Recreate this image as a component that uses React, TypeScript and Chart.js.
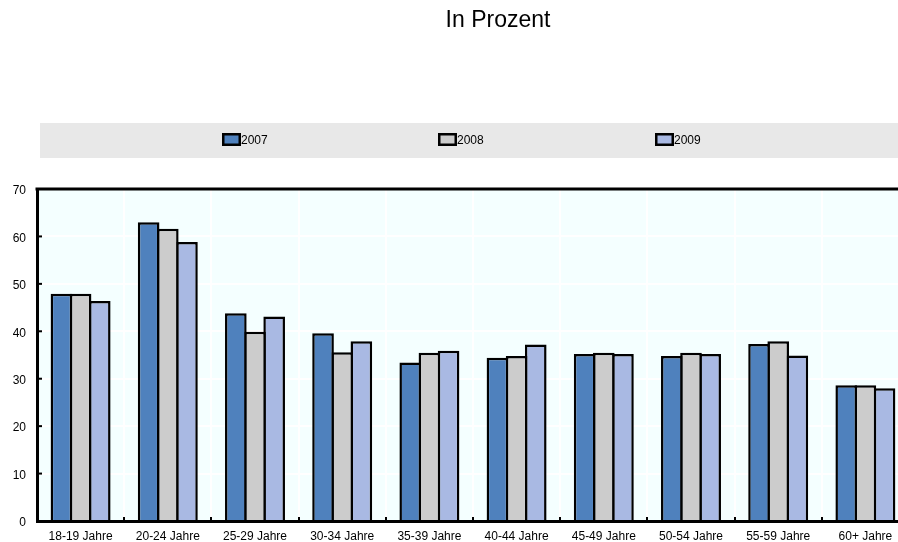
import React, { useEffect, useRef } from 'react';
import { Chart, registerables } from 'chart.js';

Chart.register(...registerables);

const categories = [
  '18-19 Jahre', '20-24 Jahre', '25-29 Jahre', '30-34 Jahre', '35-39 Jahre',
  '40-44 Jahre', '45-49 Jahre', '50-54 Jahre', '55-59 Jahre', '60+ Jahre',
];
const seriesLabels = ['2007', '2008', '2009'];
const values2007 = [47.9, 63.0, 43.8, 39.6, 33.4, 34.4, 35.2, 34.8, 37.3, 28.6];
const values2008 = [47.9, 61.6, 39.9, 35.6, 35.5, 34.8, 35.5, 35.5, 37.9, 28.6];
const values2009 = [46.4, 58.8, 43.1, 37.9, 35.9, 37.2, 35.2, 35.2, 34.9, 28.0];
const titleText = 'In Prozent';
const yMin = 0;
const yMax = 70;
const yStep = 10;

const FONT = '"Liberation Sans", Arial, sans-serif';
const COLORS = ['#4f81bd', '#cccccc', '#a9b9e3'];
const LEGEND_X = [222, 438, 655];

const decorPlugin = {
  id: 'decor',
  beforeDraw(chart: any) {
    const { ctx, chartArea } = chart;
    const { left, top, right, bottom } = chartArea;
    ctx.save();
    ctx.fillStyle = '#ffffff';
    ctx.fillRect(0, 0, chart.width, chart.height);
    ctx.fillStyle = '#f4ffff';
    ctx.fillRect(left, top, right - left, bottom - top);

    // title
    ctx.fillStyle = '#000';
    ctx.font = `23px ${FONT}`;
    ctx.textAlign = 'center';
    ctx.textBaseline = 'middle';
    ctx.fillText(titleText, 498, 21);

    // legend band
    ctx.fillStyle = '#e8e8e8';
    ctx.fillRect(40, 123, chart.width - 40, 35);
    ctx.font = `12px ${FONT}`;
    ctx.textAlign = 'left';
    chart.data.datasets.forEach((ds: any, i: number) => {
      const x = LEGEND_X[i];
      const y = 133;
      ctx.fillStyle = ds.backgroundColor;
      ctx.fillRect(x, y, 19, 13);
      ctx.strokeStyle = '#000';
      ctx.lineWidth = 2.5;
      ctx.strokeRect(x + 1.25, y + 1.25, 16.5, 10.5);
      ctx.fillStyle = '#000';
      ctx.fillText(ds.label, x + 19, 141);
    });
    ctx.restore();
  },
  afterDraw(chart: any) {
    const { ctx, chartArea, scales } = chart;
    const { left, top, right, bottom } = chartArea;
    ctx.save();
    ctx.strokeStyle = '#000';
    // top border
    ctx.lineWidth = 3;
    ctx.beginPath();
    ctx.moveTo(left - 1.5, top);
    ctx.lineTo(right, top);
    ctx.stroke();
    // inward y ticks
    ctx.lineWidth = 2;
    const ys = scales.y;
    ys.ticks.forEach((t: any) => {
      if (t.value <= yMin || t.value >= yMax) return;
      const py = ys.getPixelForValue(t.value);
      ctx.beginPath();
      ctx.moveTo(left, py);
      ctx.lineTo(left + 5, py);
      ctx.stroke();
    });
    // inward x ticks at category boundaries
    const n = categories.length;
    const w = (right - left) / n;
    for (let i = 1; i < n; i++) {
      const px = Math.round(left + w * i);
      ctx.beginPath();
      ctx.moveTo(px, bottom);
      ctx.lineTo(px, bottom - 4);
      ctx.stroke();
    }
    ctx.restore();
  },
};

export default function App() {
  const ref = useRef<HTMLCanvasElement | null>(null);

  useEffect(() => {
    if (!ref.current) return;
    const chart = new Chart(ref.current, {
      type: 'bar',
      data: {
        labels: categories,
        datasets: [values2007, values2008, values2009].map((vals, i) => ({
          label: seriesLabels[i],
          data: vals,
          backgroundColor: COLORS[i],
          borderColor: '#000000',
          borderWidth: 2.5,
          borderSkipped: 'start',
          categoryPercentage: 0.659,
          barPercentage: 1.13,
        })),
      },
      options: {
        responsive: false,
        animation: false,
        layout: { padding: { top: 189, right: 11, left: 0, bottom: 0 } },
        plugins: {
          legend: { display: false },
          title: { display: false },
          tooltip: { enabled: false },
        },
        scales: {
          x: {
            offset: true,
            grid: { display: true, offset: true, color: '#ffffff', lineWidth: 2, drawTicks: false },
            border: { display: true, color: '#000000', width: 3 },
            ticks: { color: '#000', font: { family: FONT, size: 12 }, padding: 8, maxRotation: 0, autoSkip: false },
            afterFit: (s: any) => { s.height = 21; },
          },
          y: {
            min: yMin,
            max: yMax,
            grid: { color: '#ffffff', lineWidth: 2, drawTicks: false },
            border: { display: true, color: '#000000', width: 3 },
            ticks: { stepSize: yStep, color: '#000', font: { family: FONT, size: 12 }, padding: 11, labelOffset: 2 },
            afterFit: (s: any) => { s.width = 37; },
          },
        },
      },
      plugins: [decorPlugin],
    });
    return () => chart.destroy();
  }, []);

  return (
    <div style={{ position: 'fixed', left: 0, top: 0, width: 898, height: 542, overflow: 'hidden', background: '#fff' }}>
      <canvas ref={ref} width={920} height={542} style={{ display: 'block', width: 920, height: 542 }} />
    </div>
  );
}
